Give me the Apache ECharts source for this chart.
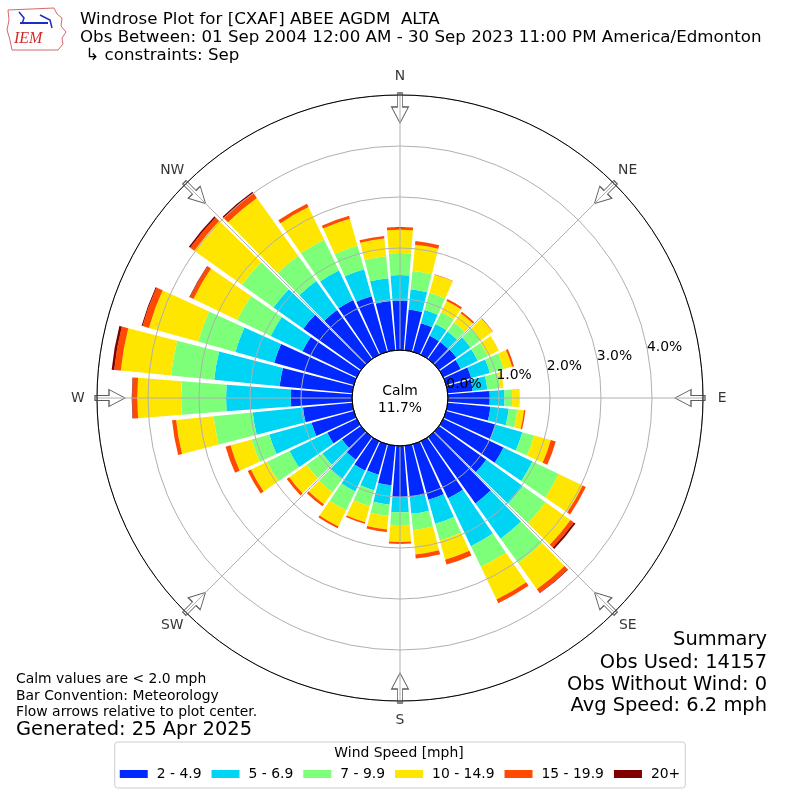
<!DOCTYPE html>
<html><head><meta charset="utf-8">
<script src="https://cdn.jsdelivr.net/npm/echarts@6/dist/echarts.min.js"></script>
<style>html,body{margin:0;padding:0;background:#fff}#c{width:800px;height:800px}</style>
</head><body><div id="c"></div>
<script>
// ---- data ----
const directions = [0,10,20,30,40,50,60,70,80,90,100,110,120,130,140,150,160,170,
                    180,190,200,210,220,230,240,250,260,270,280,290,300,310,320,330,340,350];
const compassLabels = ['N','NE','E','SE','S','SW','W','NW'];
const compassAngles = [0,45,90,135,180,225,270,315];
const radiusTicks = [0,1,2,3,4];
const speedBins = ['2 - 4.9','5 - 6.9','7 - 9.9','10 - 14.9','15 - 19.9','20+'];
const binColors = ['#0028ff','#00d4f5','#7dff7a','#ffe600','#ff4a00','#800000'];
// percent of observations per direction, per speed bin
const bin2to5   = [0.97,0.80,0.58,0.41,0.41,0.42,0.38,0.51,0.49,0.82,0.84,1.00,1.31,1.14,1.60,1.24,1.13,1.01,
                   1.01,0.78,0.62,0.64,0.55,0.46,0.64,0.86,0.97,1.20,1.43,1.62,1.18,1.39,1.18,1.19,1.13,0.97];
const bin5to7   = [0.50,0.40,0.27,0.26,0.25,0.34,0.37,0.38,0.29,0.29,0.36,0.55,0.63,0.88,0.85,1.04,0.49,0.33,
                   0.29,0.38,0.32,0.45,0.46,0.47,0.82,0.86,0.99,1.27,1.29,0.79,0.69,0.72,0.70,0.64,0.55,0.45];
const bin7to10  = [0.43,0.36,0.35,0.26,0.22,0.25,0.22,0.28,0.26,0.15,0.17,0.24,0.57,0.55,0.59,0.45,0.34,0.32,
                   0.25,0.22,0.32,0.41,0.32,0.38,0.49,0.36,0.77,0.88,0.85,0.76,0.73,0.76,0.61,0.67,0.48,0.43];
const bin10to15 = [0.46,0.52,0.37,0.24,0.22,0.28,0.24,0.17,0.06,0.15,0.13,0.34,0.52,0.60,0.63,0.71,0.39,0.48,
                   0.33,0.27,0.33,0.35,0.29,0.42,0.35,0.43,0.74,0.86,0.99,1.00,0.95,1.15,1.39,0.71,0.55,0.35];
const bin15to20 = [0.05,0.07,0.01,0.04,0.04,0.01,0.00,0.04,0.00,0.00,0.03,0.10,0.07,0.08,0.09,0.08,0.10,0.08,
                   0.04,0.05,0.03,0.04,0.05,0.06,0.07,0.10,0.08,0.10,0.13,0.13,0.08,0.10,0.12,0.07,0.06,0.05];
const bin20plus = [0,0,0,0,0,0,0,0,0,0,0,0,0,0.04,0.01,0,0,0,
                   0,0,0,0,0,0,0,0,0,0.01,0.05,0.02,0.01,0.03,0.03,0,0,0];
const binData = [bin2to5, bin5to7, bin7to10, bin10to15, bin15to20, bin20plus];
const calmPct = '11.7%';
const summaryLines = ['Summary','Obs Used: 14157','Obs Without Wind: 0','Avg Speed: 6.2 mph'];
const noteLines = ['Calm values are < 2.0 mph','Bar Convention: Meteorology','Flow arrows relative to plot center.'];

// ---- chart ----
const FONT = 'DejaVu Sans';
const C = [400, 398];
const chart = echarts.init(document.getElementById('c'), null, {renderer:'canvas'});
const arrowPath = 'path://M6,0 L11,0 L11,14 L17,14 L8.5,30 L0,14 L6,14 Z';
const hidden = {axisLine:{show:false}, axisTick:{show:false}, axisLabel:{show:false}, splitLine:{show:false}};

const series = speedBins.map((name, i) => ({
  type:'bar', coordinateSystem:'polar', polarIndex:1, stack:'wind', name,
  data: binData[i], barCategoryGap:'12%', itemStyle:{color: binColors[i]}, z:2, silent:true
}));
// flow arrows
series.push({
  type:'scatter', coordinateSystem:'polar', polarIndex:0, clip:false, silent:true, z:1,
  symbol: arrowPath, symbolSize:[17,30],
  data: compassAngles.map(a => ({value:[4.745, a], symbolRotate:-a})),
  itemStyle:{color:'#ffffff', borderColor:'#333333', borderWidth:1}
});
// compass labels
series.push({
  type:'scatter', coordinateSystem:'polar', polarIndex:0, clip:false, silent:true, z:20,
  symbol:'circle', symbolSize:1, itemStyle:{color:'rgba(0,0,0,0)'},
  data: compassAngles.map((a, i) => ({name: compassLabels[i], value:[5.373, a]})),
  label:{show:true, position:'inside', formatter: p => p.name, fontSize:13.9, fontFamily:FONT, color:'#000'}
});

const txt = (x, y, s, size) => ({
  type:'text', x, y, z:50,
  style: {text:s, fontSize:size, fontFamily:FONT, fill:'#000', textVerticalAlign:'middle'}
});

const graphics = [
  txt(80, 20, 'Windrose Plot for [CXAF] ABEE AGDM  ALTA', 16.67),
  txt(80, 37.5, 'Obs Between: 01 Sep 2004 12:00 AM - 30 Sep 2023 11:00 PM America/Edmonton', 16.67),
  txt(80, 56, ' \u21b3 constraints: Sep', 16.67),
  {type:'text', x:C[0], y:391, z:50, style:{text:'Calm', fontSize:13.9, fontFamily:FONT, fill:'#000', textAlign:'center', textVerticalAlign:'middle'}},
  {type:'text', x:C[0], y:408, z:50, style:{text:calmPct, fontSize:13.9, fontFamily:FONT, fill:'#000', textAlign:'center', textVerticalAlign:'middle'}},
  txt(16, 679, noteLines[0], 13.9),
  txt(16, 696, noteLines[1], 13.9),
  txt(16, 712, noteLines[2], 13.9),
  txt(16, 730, 'Generated: 25 Apr 2025', 19.44),
  {type:'text', x:399, y:753, z:50, style:{text:'Wind Speed [mph]', fontSize:13.9, fontFamily:FONT, fill:'#000', textAlign:'center', textVerticalAlign:'middle'}},
  // IEM logo (approximation)
  {type:'polyline', z:50, shape:{points:[[8,10],[54,8],[57,14],[62,18],[61,26],[66,32],[62,38],[63,44],[58,50],[12,50],[10,40],[7,30],[9,20],[8,10]]},
   style:{stroke:'#d46a6a', lineWidth:1, fill:null}},
  {type:'polyline', z:50, shape:{points:[[20,23],[48,23]]}, style:{stroke:'#1c2cc8', lineWidth:2}},
  {type:'polyline', z:50, shape:{points:[[19,12],[24,18],[22,24]]}, style:{stroke:'#1c2cc8', lineWidth:1.5}},
  {type:'polyline', z:50, shape:{points:[[40,15],[50,20],[52,28]]}, style:{stroke:'#1c2cc8', lineWidth:1.5}},
  {type:'text', x:14, y:39, z:50, style:{text:'IEM', fontSize:16, fontFamily:'Liberation Serif', fontStyle:'italic', fill:'#d42a2a', textVerticalAlign:'middle'}}
];
summaryLines.forEach((s, i) => graphics.push({type:'text', x:767, y:[640,663,685,706][i], z:50,
  style:{text:s, fontSize:19.44, fontFamily:FONT, fill:'#000', textAlign:'right', textVerticalAlign:'middle'}}));

const option = {
  animation:false,
  backgroundColor:'#ffffff',
  polar:[
    {center:C, radius:[48,303]},
    {center:C, radius:[48,303]},
    {center:C, radius:[0,48]},
    {center:C, radius:[48,303]}
  ],
  angleAxis:[
    {polarIndex:0, type:'value', min:0, max:360, interval:45, startAngle:90, clockwise:true, z:10,
     axisLine:{show:true, lineStyle:{color:'#000', width:1}}, axisTick:{show:false},
     axisLabel:{show:false},
     splitLine:{show:true, lineStyle:{color:'#b0b0b0', width:1}}},
    Object.assign({polarIndex:1, type:'category', data:directions, startAngle:95, clockwise:true}, hidden),
    Object.assign({polarIndex:2, type:'value', min:0, max:360, startAngle:90, z:11}, hidden,
      {axisLine:{show:true, lineStyle:{color:'#000', width:1}}}),
    Object.assign({polarIndex:3, type:'value', min:0, max:360, startAngle:10.4}, hidden)
  ],
  radiusAxis:[
    Object.assign({polarIndex:0, type:'value', min:0, max:5, interval:1, z:10}, hidden,
      {splitLine:{show:true, lineStyle:{color:'#b0b0b0', width:1}}}),
    Object.assign({polarIndex:1, type:'value', min:0, max:5}, hidden),
    Object.assign({polarIndex:2, type:'value', min:0, max:1}, hidden),
    Object.assign({polarIndex:3, type:'value', min:0, max:5, interval:1, z:12}, hidden,
      {axisLabel:{show:true, margin:5, align:'left', verticalAlign:'middle', fontSize:13.9, color:'#000', fontFamily:FONT,
        formatter: v => radiusTicks.indexOf(v) >= 0 ? v.toFixed(1) + '%' : ''}})
  ],
  legend:{
    data: speedBins, left:'center', top:742, orient:'horizontal',
    itemWidth:28, itemHeight:8, itemGap:10, icon:'rect',
    padding:[25, 5, 7, 5], borderColor:'#cccccc', borderWidth:1, borderRadius:3,
    backgroundColor:'#ffffff',
    textStyle:{fontSize:13.9, fontFamily:FONT, color:'#000', padding:[0,0,0,4]}
  },
  graphic: graphics,
  series
};
chart.setOption(option);
</script></body></html>
